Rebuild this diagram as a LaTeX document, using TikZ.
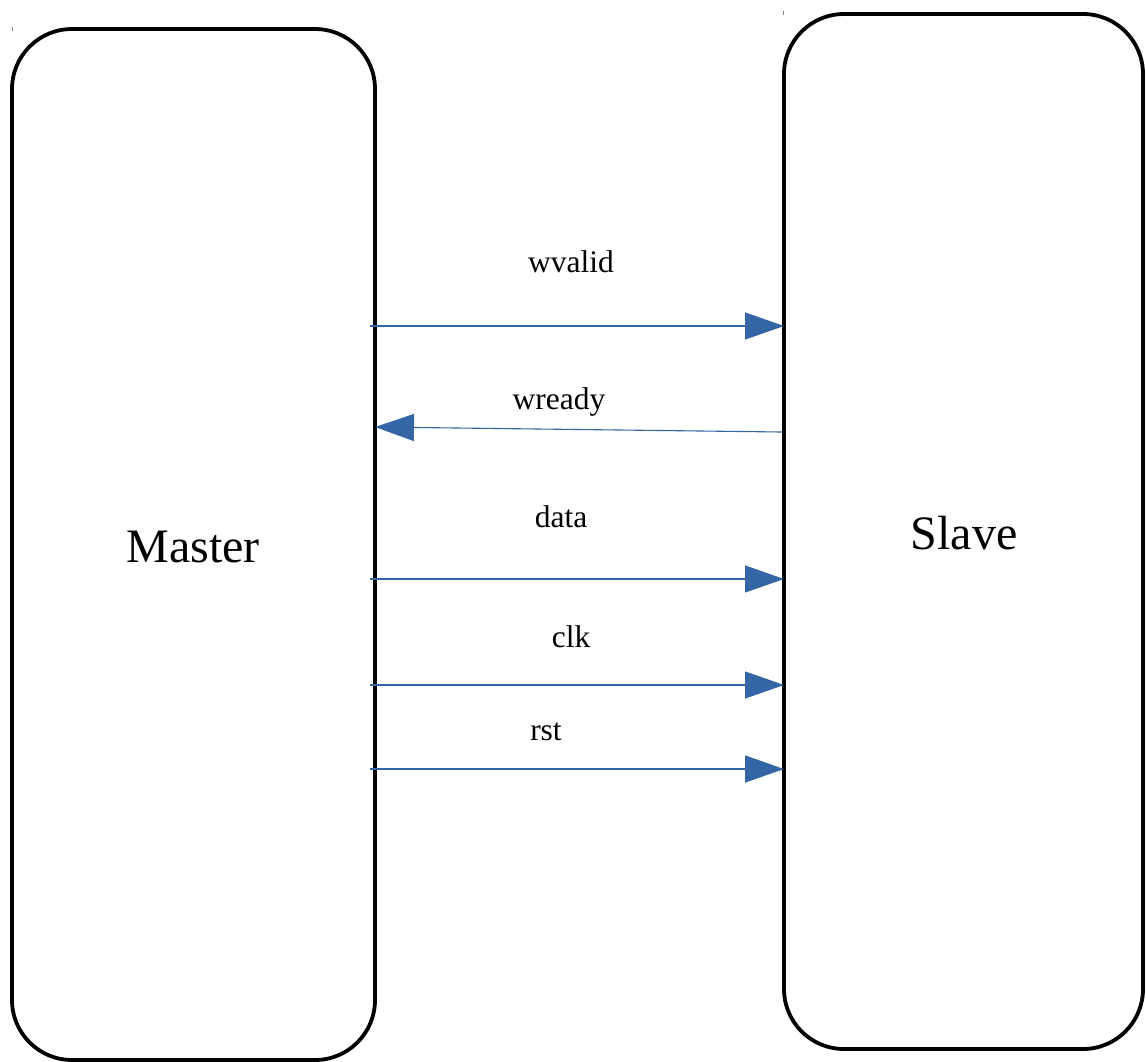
\documentclass[tikz,border=0pt]{standalone}
\usepackage{fontspec}
\setmainfont{Liberation Serif}
\usetikzlibrary{arrows.meta}
\definecolor{sigblue}{HTML}{3465A4}
\begin{document}
\begin{tikzpicture}[x=1pt,y=-1pt,
  block/.style={draw=black, line width=3.8pt, rounded corners=60pt, outer sep=0pt, inner sep=0pt},
  sig/.style={draw=sigblue, line width=1.1pt, -{Triangle[length=39pt,width=27pt]}},
  lbl/.style={font=\fontsize{31.5}{36}\selectfont, inner sep=0pt}]
\useasboundingbox (0,0) rectangle (1146,1061);
\node[block, minimum width=363pt, minimum height=1031pt] (master) at (193.5,544.5) {};
\node at (193,547) (mlabel) {\fontsize{48}{56}\selectfont Master};
\node[block, minimum width=359pt, minimum height=1035pt] (slave) at (963.5,531.5) {};
\node at (964,533) (slabel) {\fontsize{48}{56}\selectfont Slave};
% tiny marks
\draw[gray, line width=0.8pt] (12,27) -- (12,31);
\draw[gray, line width=0.8pt] (783.5,11) -- (783.5,15);
% signals
\coordinate (a1) at (370,326);
\draw[sig] (a1) -- (slave.west |- a1);
\node[lbl] (l1) at (571,262) {wvalid};
\coordinate (a2) at (782,432);
\coordinate (a2e) at (375,427);
\draw[sig] (a2) -- (a2e);
\node[lbl] (l2) at (559,402) {wready};
\coordinate (a3) at (370,579);
\draw[sig] (a3) -- (slave.west |- a3);
\node[lbl] (l3) at (561,517) {data};
\coordinate (a4) at (370,685);
\draw[sig] (a4) -- (slave.west |- a4);
\node[lbl] (l4) at (571,637) {clk};
\coordinate (a5) at (370,769);
\draw[sig] (a5) -- (slave.west |- a5);
\node[lbl] (l5) at (546,732) {rst};
\end{tikzpicture}
\end{document}
